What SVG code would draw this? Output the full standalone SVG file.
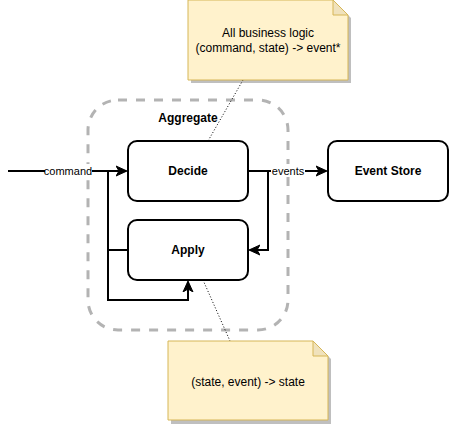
<svg xmlns="http://www.w3.org/2000/svg" width="449" height="424" viewBox="0 0 449 424">
<defs>
<style>
.node{fill:#ffffff;stroke:#000000;stroke-width:2}
.nl{font-family:"Liberation Sans",Arial,sans-serif;font-size:12px;font-weight:bold;fill:#000000;text-anchor:middle}
.nt{font-family:"Liberation Sans",Arial,sans-serif;font-size:12px;fill:#000000;text-anchor:middle}
.el{font-family:"Liberation Sans",Arial,sans-serif;font-size:11px;fill:#000000;text-anchor:middle}
.edge{fill:none;stroke:#000000;stroke-width:2}
.dot{fill:none;stroke:#000000;stroke-width:1;stroke-dasharray:1,2}
.note{fill:#fff2cc;stroke:#d6b656;stroke-width:1}
.fold{fill:#f0e2bc;stroke:#d6b656;stroke-width:1}
.shadow{fill:#000000;opacity:0.25}
</style>
<marker id="arr" markerWidth="12" markerHeight="12" viewBox="0 0 12 12" refX="10" refY="6" orient="auto" markerUnits="userSpaceOnUse">
<path d="M0,1 L11,6 L0,11 L3,6 Z" fill="#000000" stroke="#000000" stroke-width="1"/>
</marker>
</defs>
<rect width="449" height="424" fill="#ffffff"/>
<g id="aggregate">
<rect x="88" y="100" width="200" height="230" rx="30" ry="30" fill="none" stroke="#b3b3b3" stroke-width="3" stroke-dasharray="9,9"/>
<text class="nl" x="188" y="122">Aggregate</text>
</g>
<g id="connectors">
<path class="dot" d="M243,80 L208,141"/>
<path class="dot" d="M203,280 L230,341"/>
<path class="edge" d="M8,171 L126,171" marker-end="url(#arr)"/>
<path class="edge" d="M128,250 L108,250 L108,171"/>
<path class="edge" d="M108,250 L108,300 L188,300 L188,282" marker-end="url(#arr)"/>
<path class="edge" d="M248,171 L268,171 L268,250 L250,250" marker-end="url(#arr)"/>
<path class="edge" d="M268,171 L326,171" marker-end="url(#arr)"/>
<rect x="45" y="164" width="47" height="13" fill="#ffffff"/>
<text class="el" x="68" y="175">command</text>
<rect x="271" y="164" width="34" height="13" fill="#ffffff"/>
<text class="el" x="288" y="175">events</text>
</g>
<g id="decide">
<rect class="node" x="128" y="141" width="120" height="60" rx="9" ry="9"/>
<text class="nl" x="188" y="175">Decide</text>
</g>
<g id="apply">
<rect class="node" x="128" y="220" width="120" height="60" rx="9" ry="9"/>
<text class="nl" x="188" y="254">Apply</text>
</g>
<g id="event-store">
<rect class="node" x="328" y="141" width="120" height="60" rx="9" ry="9"/>
<text class="nl" x="388" y="175">Event Store</text>
</g>
<g id="note-decide">
<path class="shadow" d="M191,3 L336,3 L351,18 L351,83 L191,83 Z"/>
<path class="note" d="M188,0 L333,0 L348,15 L348,80 L188,80 Z"/>
<path class="fold" d="M333,0 L333,15 L348,15 Z"/>
<text class="nt" x="268" y="37">All business logic</text>
<text class="nt" x="268" y="52">(command, state) -&gt; event*</text>
</g>
<g id="note-apply">
<path class="shadow" d="M171,344 L316,344 L331,359 L331,424 L171,424 Z"/>
<path class="note" d="M168,341 L313,341 L328,356 L328,420 L168,420 Z"/>
<path class="fold" d="M313,341 L313,356 L328,356 Z"/>
<text class="nt" x="248" y="386">(state, event) -&gt; state</text>
</g>
</svg>
